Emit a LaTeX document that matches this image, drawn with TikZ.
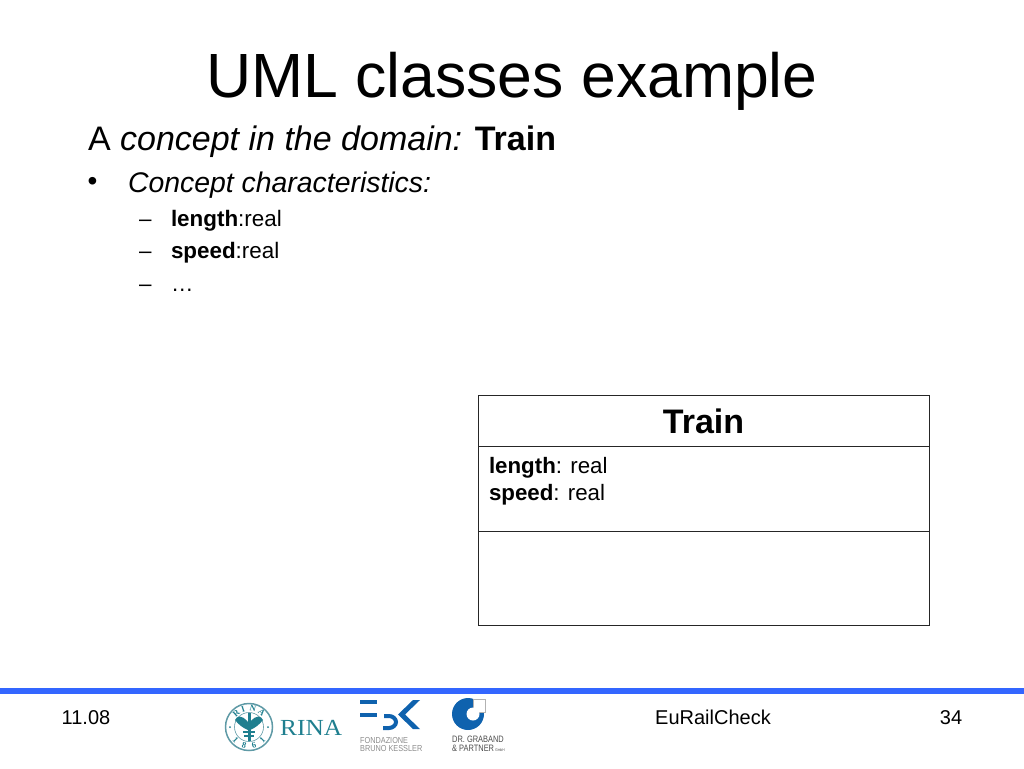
\documentclass[tikz,border=0pt]{standalone}
\usepackage{fontspec}
\setmainfont{Liberation Sans}
\newfontfamily\rinafont{Liberation Serif}
\usetikzlibrary{positioning}
\definecolor{barblue}{HTML}{3366FF}
\definecolor{rinateal}{HTML}{1F7F8F}
\definecolor{rinaring}{HTML}{5F9AA6}
\definecolor{fbkblue}{HTML}{0F62AE}
\definecolor{fbkgray}{HTML}{8C8C8C}
\newcommand{\fsz}[1]{\fontsize{#1}{#1}\selectfont}

\begin{document}
\begin{tikzpicture}[x=1pt,y=-1pt]
    \tikzset{
        slidetext/.style={anchor=base west, inner sep=0pt, outer sep=0pt},
        compartment/.style={draw=black!85, line width=1pt, minimum width=451.5pt, outer sep=0pt, inner sep=0pt, anchor=north west},
        footertext/.style={anchor=base, inner sep=0pt, font=\fsz{20}},
        ringtext/.style={inner sep=0pt, text=rinateal, font=\rinafont\bfseries\fsz{8.5}},
        logotext/.style={anchor=base west, inner sep=0pt}
    }
    \useasboundingbox (0,0) rectangle (1024,768);

    % Title and bullets
    \node[inner sep=0pt, anchor=base] (title) at (512,97) {\fsz{62.5}UML classes example};
    \node[slidetext] (concept) at (88,150) {\fsz{34}A \textit{concept in the domain:} \textbf{Train}};
    \node[slidetext] (bullet) at (87.5,190.5) {\fsz{28}•};
    \node[slidetext] (chars) at (128,192) {\fsz{28.4}\textit{Concept characteristics:}};
    \node[slidetext] (dasha) at (139,226) {\fsz{22.4}–};
    \node[slidetext] (lengthitem) at (171,226) {\fsz{22.4}\textbf{length}:real};
    \node[slidetext] (dashb) at (139,258) {\fsz{22.4}–};
    \node[slidetext] (speeditem) at (171,258) {\fsz{22.4}\textbf{speed}:real};
    \node[slidetext] (dashc) at (139,291) {\fsz{22.4}–};
    \node[slidetext] (moreitem) at (171,291) {\fsz{22.4}…};

    % Class box
    \node[compartment, minimum height=51pt] (trainname) at (478,395) {};
    \node[compartment, minimum height=85pt, below=0pt of trainname.south west, anchor=north west] (trainattrs) {};
    \node[compartment, minimum height=94pt, below=0pt of trainattrs.south west, anchor=north west] (trainops) {};
    \node[anchor=base, inner sep=0pt] (trainlabel) at (703.5,433) {\fsz{34}\textbf{Train}};
    \node[slidetext] (lengthattr) at (489,473) {\fsz{22.3}\textbf{length}: real};
    \node[slidetext] (speedattr) at (489,500) {\fsz{22.3}\textbf{speed}: real};

    % Footer
    \fill[barblue] (0,688) rectangle (1024,694);
    \node[footertext] (date) at (86,724) {11.08};
    \node[footertext] (project) at (713,724) {EuRailCheck};
    \node[footertext] (pagenum) at (951,724) {34};

    % RINA logo
    \draw[rinaring, line width=1.5pt] (249,727) circle (23.5);
    \draw[rinaring, line width=0.6pt] (249,727) circle (14.5);
    \fill[rinateal] (247.5,713) rectangle (250.5,741);
    \fill[rinateal] (248,722) .. controls (241,714) and (237,716) .. (235,720) .. controls (239,725) and (243,728) .. (248,730) -- cycle;
    \fill[rinateal] (250,722) .. controls (257,714) and (261,716) .. (263,720) .. controls (259,725) and (255,728) .. (250,730) -- cycle;
    \fill[rinateal] (243,731) rectangle (255,733);
    \fill[rinateal] (244,735) rectangle (254,737);
    \fill[rinateal] (230,727) circle (1) (268,727) circle (1);
    \foreach \letter/\ang in {R/132,I/108,N/78,A/48}
        \node[ringtext, rotate=\ang-90] at ({249+19*cos(\ang)},{727-19*sin(\ang)}) {\letter};
    \foreach \letter/\ang in {1/-135,8/-105,6/-75,1/-45}
        \node[ringtext, rotate=\ang+90] at ({249+19*cos(\ang)},{727-19*sin(\ang)}) {\letter};
    \node[logotext, text=rinateal] (rinaname) at (280,735) {\rinafont\fsz{23}\scalebox{1.1}[1]{RINA}};

    % FBK logo
    \fill[fbkblue] (360,700) rectangle (377,704);
    \fill[fbkblue] (360,713) rectangle (377,717);
    \draw[fbkblue, line width=4pt] (384,716) -- (389,716) .. controls (393,716) and (396,719) .. (396,722)
        .. controls (396,725) and (393,728) .. (389,728) -- (383,728);
    \fill[fbkblue] (413,700) -- (420,700) -- (405,714.5) -- (420,729) -- (413,729) -- (398,714.5) -- cycle;
    \node[logotext, text=fbkgray] (fbkname) at (360,743.5) {\fsz{8.7}\scalebox{.84}[1]{FONDAZIONE}};
    \node[logotext, text=fbkgray] (fbkkessler) at (360,751) {\fsz{8.7}\scalebox{.84}[1]{BRUNO KESSLER}};

    % Graband logo
    \fill[fbkblue] (468,714) circle (16);
    \fill[white] (473,699) rectangle (485,712);
    \draw[black!30, line width=0.5pt] (473,699) rectangle (485,712);
    \fill[white] (473,714) circle (6.5);
    \node[logotext, text=black!70] (grabandname) at (452,742) {\fsz{9.3}\scalebox{.8}[1]{DR. GRABAND}};
    \node[logotext, text=black!70] (grabandpartner) at (452,751) {\fsz{9.3}\scalebox{.8}[1]{\& PARTNER\,{\fsz{4}GmbH}}};
\end{tikzpicture}
\end{document}
